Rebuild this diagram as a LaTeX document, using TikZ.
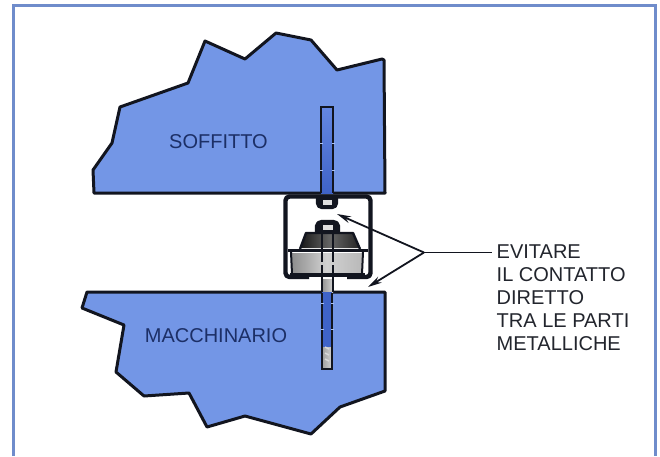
\documentclass[tikz,border=0pt]{standalone}
\usepackage{fontspec}
\setmainfont{Liberation Sans}
\usetikzlibrary{arrows.meta}
\definecolor{framec}{HTML}{6F8CCB}
\definecolor{bodyc}{HTML}{7396E6}
\definecolor{boltc}{HTML}{3F63C8}
\definecolor{boltlight}{HTML}{6487E2}
\definecolor{labc}{HTML}{1C2F66}
\definecolor{inkc}{HTML}{12151F}
\tikzset{
  body/.style={draw=inkc,fill=bodyc,line width=3pt,line join=round},
  blabel/.style={font=\fontsize{20}{22}\selectfont,text=labc,inner sep=0pt},
  note/.style={font=\fontsize{20}{22.8}\selectfont,text=inkc!85!gray,align=left,inner sep=0pt,anchor=north west},
  lead/.style={draw=inkc,line width=1.8pt},
  arrowline/.style={lead,-{Stealth[length=14pt,width=7pt]}},
  ink/.style={draw=inkc,line width=2.4pt,line join=round},
  boltedge/.style={draw=inkc,line width=2.2pt},
}
\begin{document}
\begin{tikzpicture}[x=1pt,y=-1pt]
\useasboundingbox (0,0) rectangle (660,456);
\fill[white] (0,0) rectangle (660,456);
\draw[framec,line width=3pt] (13,456) -- (13,5) -- (655,5) -- (655,456);
% ceiling
\draw[body] (93,170) -- (94,193) -- (385,193) -- (384,60) -- (382,59) -- (337,70) -- (311,40) -- (276,33) -- (245,59) -- (205,41) -- (188,83) -- (120,107) -- (112,143) -- cycle;
% machine
\draw[body] (87,292) -- (385,292) -- (385,391) -- (340,407) -- (311,434) -- (245,416) -- (207,427) -- (189,393) -- (144,396) -- (116,372) -- (124,325) -- (82,308) -- cycle;
% ceiling bolt
\fill[top color=boltlight,bottom color=boltc] (321,107) rectangle (333,193);
\draw[boltedge] (321,193) -- (321,107) -- (333,107) -- (333,193);
\foreach \yy in {143,170}{\draw[bodyc!60,line width=1pt] (319.5,\yy) -- (322.5,\yy) (331.5,\yy) -- (334.5,\yy);}
% bracket
\draw[ink,line width=4.4pt,rounded corners=4pt] (309,277) -- (285.5,277) -- (285.5,196.5) -- (370.5,196.5) -- (370.5,277) -- (347,277);
% top nut
\draw[ink,fill=inkc,rounded corners=2pt] (317,197) -- (317,205) -- (320,208) -- (334,208) -- (337,205) -- (337,197);
\fill[white!75!gray] (323,200) rectangle (332,205);
% rubber mount
\shade[left color=gray!90,right color=gray!55,middle color=white!82!black] (291,253) rectangle (362,274);
\shade[left color=black!90,right color=black!85,middle color=black!60] (301,248) -- (306,233) -- (353,233) -- (359,248) -- cycle;
\draw[ink] (300,249) -- (306,233) -- (353,233) -- (360,249);
\draw[ink,line width=3.4pt] (288,250.5) -- (368,250.5);
\draw[ink,line width=2pt] (291,252) -- (292,274) (363,252) -- (362,274);
\draw[ink,line width=4.4pt] (290,275) -- (365,275);
% mount nut
\draw[ink,fill=inkc,rounded corners=2pt] (316,232) -- (316,224) -- (320,221) -- (335,221) -- (339,224) -- (339,232);
\fill[white!75!gray] (323,225) rectangle (333,230);
% hidden stud in mount
\draw[inkc,line width=2.6pt,dash pattern=on 29pt off 3pt] (322,233) -- (322,278) (333,233) -- (333,278);
% stud
\shade[left color=gray!85,right color=gray!35] (322,279) rectangle (333,292);
\draw[boltedge] (322,278) -- (322,292) (333,278) -- (333,292);
% machine bolt
\fill[boltc] (322,292) rectangle (332,347);
\shade[left color=gray!75,right color=gray!35] (322,347) rectangle (332,369);
\draw[boltedge] (322,293) -- (322,369) -- (332,369) -- (332,293);
\foreach \yy in {303,329}{\draw[bodyc!60,line width=1pt] (320.5,\yy) -- (323.5,\yy) (330.5,\yy) -- (333.5,\yy);}
\draw[white!70!gray,line width=1.4pt] (325,347) -- (329,349) (325,353) -- (329,355) (325,359) -- (329,361);
% labels
\node[blabel] (soffitto) at (218.5,142) {SOFFITTO};
\node[blabel] (macchinario) at (216,336) {MACCHINARIO};
\node[note] (nota) at (496.5,245) {EVITARE\\IL CONTATTO\\DIRETTO\\TRA LE PARTI\\METALLICHE};
% leaders
\coordinate (junction) at (424,252.5);
\coordinate (tipA) at (337,214);
\coordinate (tipB) at (368,287);
\draw[lead] (junction) -- (492,252.5);
\draw[arrowline] (junction) -- (tipA);
\draw[arrowline] (junction) -- (tipB);
\end{tikzpicture}
\end{document}
